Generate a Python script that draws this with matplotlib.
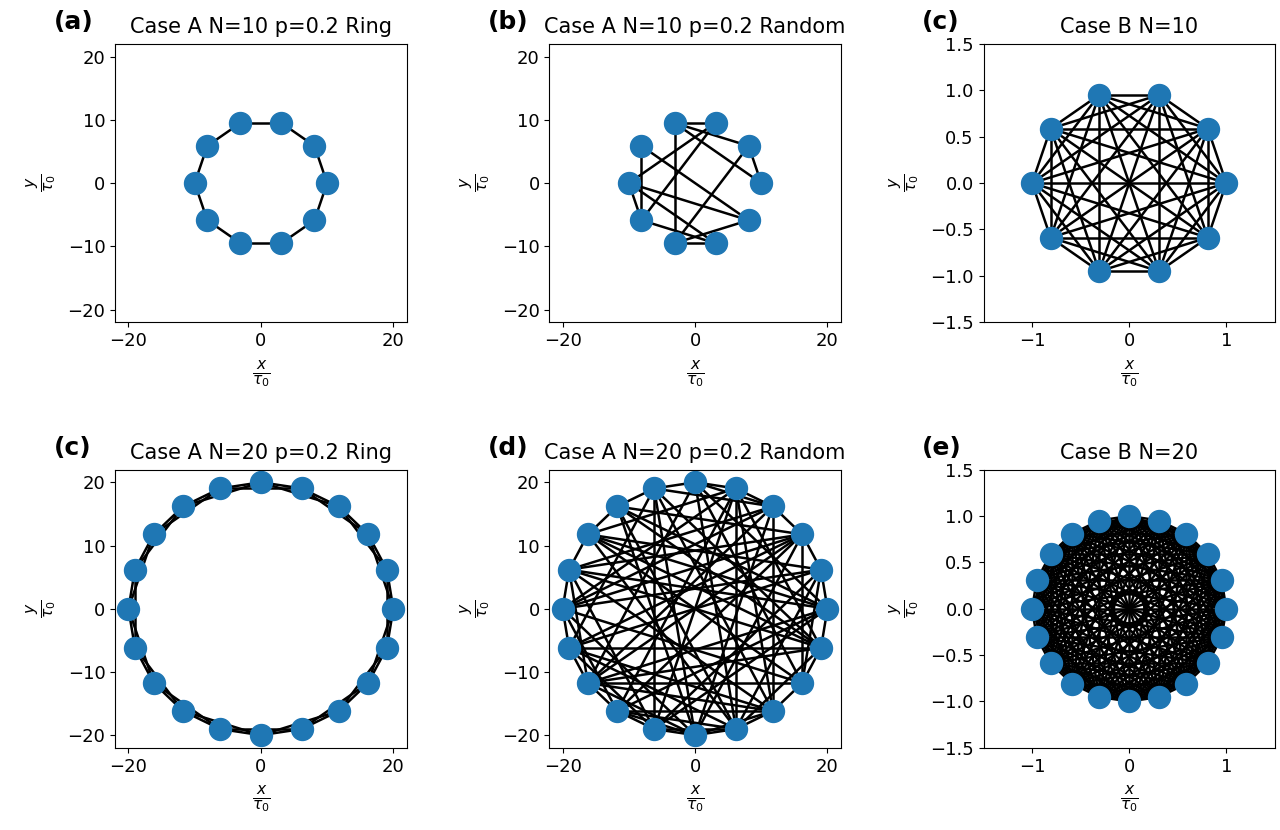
import matplotlib
matplotlib.use('Agg')
import matplotlib.pyplot as plt
import numpy as np
from itertools import combinations

# panel setup
labels = ['(a)', '(b)', '(c)', '(c)', '(d)', '(e)']
titles = ['Case A N=10 p=0.2 Ring', 'Case A N=10 p=0.2 Random', 'Case B N=10',
          'Case A N=20 p=0.2 Ring', 'Case A N=20 p=0.2 Random', 'Case B N=20']
sizes = [10, 10, 10, 20, 20, 20]
radii = [10, 10, 1, 20, 20, 1]

ticks_a = [-20, 0, 20]
yticks_a = [-20, -10, 0, 10, 20]
ticks_b = [-1, 0, 1]
yticks_b = [-1.5, -1.0, -0.5, 0.0, 0.5, 1.0, 1.5]
lim_a = 22
lim_b = 1.5

# edges (node k sits at angle 2*pi*k/N)
edges_ring10 = [(0, 1), (1, 2), (2, 3), (3, 4), (4, 5), (5, 6), (6, 7), (7, 8), (8, 9), (9, 0)]
edges_rand10 = [(2, 3), (3, 1), (3, 0), (3, 7), (2, 5), (2, 6), (1, 7), (1, 0),
                (4, 9), (4, 6), (5, 6), (5, 9), (5, 8), (6, 8), (7, 9), (7, 8)]
edges_ring20 = [(0, 1), (1, 2), (2, 3), (3, 4), (4, 5), (5, 6), (6, 7), (7, 8), (8, 9), (9, 10),
                (10, 11), (11, 12), (12, 13), (13, 14), (14, 15), (15, 16), (16, 17), (17, 18),
                (18, 19), (19, 0),
                (0, 2), (1, 3), (2, 4), (3, 5), (4, 6), (5, 7), (6, 8), (7, 9), (8, 10), (9, 11),
                (10, 12), (11, 13), (12, 14), (13, 15), (14, 16), (15, 17), (16, 18), (17, 19),
                (18, 0), (19, 1)]
edges_rand20 = [(0, 1), (0, 19), (0, 9), (0, 12), (0, 7), (0, 13), (0, 5), (0, 14),
                (1, 2), (1, 8), (1, 10), (1, 14), (1, 18), (1, 11), (1, 16),
                (2, 3), (2, 7), (2, 18), (2, 11), (2, 9), (2, 13), (2, 15), (2, 12),
                (3, 4), (3, 9), (3, 6), (3, 15), (3, 12), (3, 10), (3, 17),
                (4, 5), (4, 8), (4, 17), (4, 14), (4, 10), (4, 13), (4, 16),
                (5, 6), (5, 16), (5, 12), (5, 18), (5, 3),
                (6, 7), (6, 14), (6, 11), (6, 19), (6, 17), (6, 15),
                (7, 8), (7, 15), (7, 19), (7, 16),
                (8, 9), (8, 16), (8, 0), (8, 18),
                (9, 10), (9, 17), (9, 19), (9, 14), (9, 12),
                (10, 11), (10, 18), (10, 2), (10, 15), (10, 13),
                (11, 12), (11, 16), (11, 19), (11, 17), (11, 14),
                (12, 13), (12, 17), (12, 18), (12, 15),
                (13, 14), (13, 15), (13, 16), (13, 17),
                (14, 15), (14, 16),
                (15, 16), (15, 17),
                (16, 17), (16, 19),
                (17, 18), (19, 8), (19, 12), (19, 4),
                (18, 19)]
edges_full10 = list(combinations(range(10), 2))
edges_full20 = list(combinations(range(20), 2))
edge_sets = [edges_ring10, edges_rand10, edges_full10, edges_ring20, edges_rand20, edges_full20]

fig, axs = plt.subplots(2, 3, figsize=(12.8, 8.3), dpi=100)
fig.subplots_adjust(left=0.09, right=0.996, top=0.947, bottom=0.099, wspace=0.49, hspace=0.53)

for i, ax in enumerate(axs.flat):
    n = sizes[i]
    r = radii[i]
    ang = 2 * np.pi * np.arange(n) / n
    xs = r * np.cos(ang)
    ys = r * np.sin(ang)
    for a, b in edge_sets[i]:
        ax.plot([xs[a], xs[b]], [ys[a], ys[b]], color='black', lw=1.8, zorder=1)
    ax.scatter(xs, ys, s=250, color='#1f77b4', zorder=2)
    if r == 1:
        ax.set_xlim(-lim_b, lim_b)
        ax.set_ylim(-lim_b, lim_b)
        ax.set_xticks(ticks_b)
        ax.set_yticks(yticks_b)
    else:
        ax.set_xlim(-lim_a, lim_a)
        ax.set_ylim(-lim_a, lim_a)
        ax.set_xticks(ticks_a)
        ax.set_yticks(yticks_a)
    ax.tick_params(labelsize=13)
    ax.set_title(titles[i], fontsize=15, pad=8)
    ax.text(-0.21, 1.035, labels[i], transform=ax.transAxes, fontsize=18,
            fontweight='bold', ha='left', va='bottom')
    ax.set_xlabel(r'$\frac{x}{\tau_0}$', fontsize=16, labelpad=6)
    ax.set_ylabel(r'$\frac{y}{\tau_0}$', fontsize=16, labelpad=6)

fig.savefig('out.png')
